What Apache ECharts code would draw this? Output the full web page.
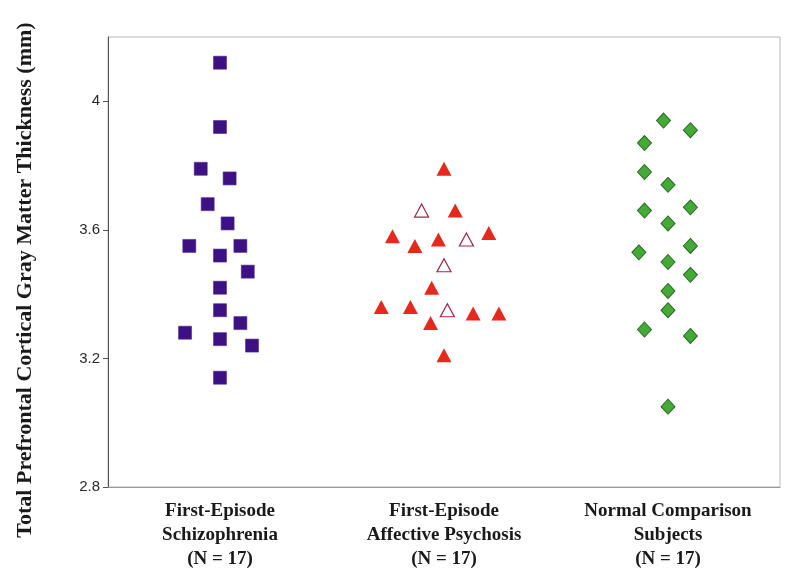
<!DOCTYPE html>
<html><head><meta charset="utf-8">
<script src="https://cdn.jsdelivr.net/npm/echarts@6/dist/echarts.min.js"></script>
<style>html,body{margin:0;padding:0;background:#fff}#c{width:800px;height:583px}</style>
</head><body><div id="c"></div>
<script>
// Categories
const categories = ['First-Episode\nSchizophrenia\n(N = 17)', 'First-Episode\nAffective Psychosis\n(N = 17)', 'Normal Comparison\nSubjects\n(N = 17)'];
const yTicks = [2.8, 3.2, 3.6, 4.0];
const yTitle = 'Total Prefrontal Cortical Gray Matter Thickness (mm)';

// First-episode schizophrenia (group 1): horizontal jitter offsets and thickness values
const schizJitter = [0, 0, -0.086, 0.043, -0.055, 0.034, -0.137, 0.091, 0, 0.124, 0, 0, 0.091, -0.156, 0, 0.143, 0];
const schizValues = [4.12, 3.92, 3.79, 3.76, 3.68, 3.62, 3.55, 3.55, 3.52, 3.47, 3.42, 3.35, 3.31, 3.28, 3.26, 3.24, 3.14];

// First-episode affective psychosis (group 2): filled triangles
const affJitter = [0, 0.05, -0.23, -0.13, -0.025, 0.20, -0.055, -0.28, -0.15, -0.06, 0.13, 0.245, 0];
const affValues = [3.79, 3.66, 3.58, 3.55, 3.57, 3.59, 3.42, 3.36, 3.36, 3.31, 3.34, 3.34, 3.21];
// open triangles
const affOpenJitter = [-0.10, 0.10, 0, 0.015];
const affOpenValues = [3.66, 3.57, 3.49, 3.35];

// Normal comparison subjects (group 3)
const normJitter = [-0.02, 0.10, -0.105, -0.105, 0, -0.105, 0.10, 0, -0.13, 0.10, 0, 0.10, 0, 0, -0.105, 0.10, 0];
const normValues = [3.94, 3.91, 3.87, 3.78, 3.74, 3.66, 3.67, 3.62, 3.53, 3.55, 3.50, 3.46, 3.41, 3.35, 3.29, 3.27, 3.05];

function pts(center, jit, vals) { return vals.map((v, i) => [center + jit[i], v]); }

const chart = echarts.init(document.getElementById('c'));
chart.setOption({
  animation: false,
  grid: { left: 108, right: 20, top: 37, bottom: 96, show: true, borderColor: '#b8b8b8', borderWidth: 1 },
  xAxis: [
    { type: 'value', min: 0.5, max: 3.5, show: false },
    { type: 'category', data: categories, position: 'bottom', boundaryGap: true,
      axisLine: { show: true, lineStyle: { color: '#999' } }, axisTick: { show: false },
      axisLabel: { margin: 12, color: '#1a1a1a', fontFamily: 'Liberation Serif', fontWeight: 'bold', fontSize: 19, lineHeight: 24 } }
  ],
  yAxis: {
    type: 'value', min: 2.8, max: 4.2, interval: 0.4,
    splitLine: { show: false },
    axisLine: { show: true, lineStyle: { color: '#555' } },
    axisTick: { show: true, length: 5, customValues: yTicks, lineStyle: { color: '#555' } },
    axisLabel: { margin: 8, color: '#2a2a2a', fontFamily: 'Liberation Sans', fontSize: 15, customValues: yTicks,
      formatter: v => String(+(+v).toFixed(1)) }
  },
  graphic: [{
    type: 'text', x: 25.5, y: 280, rotation: Math.PI / 2,
    style: { text: yTitle, fill: '#1a1a1a', font: 'bold 22px "Liberation Serif"', textAlign: 'center', textVerticalAlign: 'middle' }
  }],
  series: [
    { type: 'scatter', xAxisIndex: 0, symbol: 'rect', symbolSize: 13, data: pts(1, schizJitter, schizValues),
      itemStyle: { color: '#3d1183', opacity: 1, borderColor: '#4e2a90', borderWidth: 0.6 } },
    { type: 'scatter', xAxisIndex: 0, symbol: 'triangle', symbolSize: [15, 14], data: pts(2, affJitter, affValues),
      itemStyle: { color: '#e5291c', opacity: 1 } },
    { type: 'scatter', xAxisIndex: 0, symbol: 'triangle', symbolSize: [14, 13], data: pts(2, affOpenJitter, affOpenValues),
      itemStyle: { color: '#fff', opacity: 1, borderColor: '#9e2843', borderWidth: 1.2 } },
    { type: 'scatter', xAxisIndex: 0, symbol: 'diamond', symbolSize: [14, 15], data: pts(3, normJitter, normValues),
      itemStyle: { color: '#43aa36', opacity: 1, borderColor: '#2a6a24', borderWidth: 1 } }
  ]
});
</script></body></html>
